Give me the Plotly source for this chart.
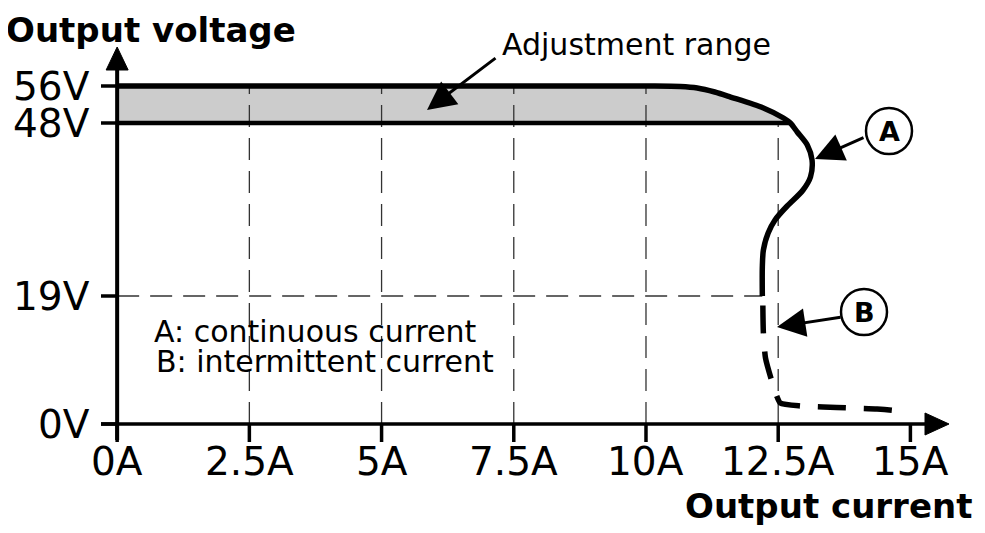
import numpy as np
import plotly.graph_objects as go

# ---------------- data ----------------
x_ticks = [0, 2.5, 5, 7.5, 10, 12.5, 15]
x_tick_labels = ["0A", "2.5A", "5A", "7.5A", "10A", "12.5A", "15A"]
y_ticks = [0, 19, 48, 56]
y_tick_labels = ["0V", "19V", "48V", "56V"]

# continuous-current part of the curve (A) : current [A], voltage [V]
solid_i = [0.0, 10.0, 10.65, 10.97, 11.30, 11.60, 12.22, 12.60, 12.73, 12.86, 13.05, 13.14,
           13.11, 12.97, 12.73, 12.67, 12.44, 12.31, 12.22, 12.20, 12.20]
solid_v = [56.0, 56.0, 55.9, 55.57, 54.7, 53.62, 51.24, 49.08, 48.0, 46.49, 44.31, 41.80,
           38.95, 36.77, 34.59, 34.09, 31.74, 29.56, 26.71, 23.86, 19.0]
# intermittent-current part (B)
dash_i = [12.21, 12.22, 12.26, 12.39, 12.48, 12.54, 12.92, 13.35, 13.86, 14.37, 14.75, 14.85]
dash_v = [17.6, 13.51, 9.80, 6.09, 4.01, 3.12, 2.67, 2.52, 2.37, 2.23, 1.93, 1.63]

v_low, v_high = 48, 56      # adjustment range
v_grid = 19

# ---------------- layout helpers ----------------
# the drawing's voltage axis is not to scale: piecewise mapping to display units
V_BREAKS = [0, 19, 48, 56]
D_BREAKS = [0, 128, 301, 338]


def vd(v):
    return np.interp(v, V_BREAKS, D_BREAKS)


OFF = 8                        # default page body margin
FW, FH = 985 - 2 * OFF, 533 - 2 * OFF
XMIN, XMAX = -0.4, 15.9
YMIN, YMAX = -24, 384
L, T = 96 - OFF, 40 - OFF
PW, PH = 862, 408
PXA = PW / (XMAX - XMIN)       # px per ampere
X0PX = L + OFF - XMIN * PXA    # page pixel x of 0 A
Y0PX = T + OFF + YMAX          # page pixel y of 0 V


def px2x(px):
    return (px - X0PX) / PXA


def px2d(py):
    return Y0PX - py


def paperx(px):
    return (px - OFF - L) / PW


def papery(py):
    return (T + PH - (py - OFF)) / PH


FONT = "DejaVu Sans"
BLACK = "#000000"

fig = go.Figure()

# gray adjustment-range fill
cross = solid_v.index(v_low)
fill_x = solid_i[:cross + 1] + [0.0]
fill_y = list(vd(np.array(solid_v[:cross + 1]))) + [vd(v_low)]
fig.add_trace(go.Scatter(x=fill_x, y=fill_y, mode="lines", fill="toself",
                         fillcolor="#cccccc", line=dict(width=0), hoverinfo="skip"))

# dashed grid lines
GRID = dict(color="#333333", width=1.3, dash="22px,11px")
for xt in x_ticks[1:-1]:
    top = v_high if xt < 12 else v_low
    fig.add_trace(go.Scatter(x=[xt, xt], y=[vd(0), vd(top)], mode="lines",
                             line=GRID, hoverinfo="skip"))
fig.add_trace(go.Scatter(x=[0, solid_i[-1]], y=[vd(v_grid), vd(v_grid)], mode="lines",
                         line=GRID, hoverinfo="skip"))

# 48 V line
fig.add_trace(go.Scatter(x=[0, solid_i[cross]], y=[vd(v_low), vd(v_low)], mode="lines",
                         line=dict(color=BLACK, width=4.5), hoverinfo="skip"))

# curves
fig.add_trace(go.Scatter(x=solid_i, y=vd(np.array(solid_v)), mode="lines",
                         line=dict(color=BLACK, width=5.5, shape="spline", smoothing=0.8),
                         hoverinfo="skip"))
fig.add_trace(go.Scatter(x=dash_i, y=vd(np.array(dash_v)), mode="lines",
                         line=dict(color=BLACK, width=5.5, dash="28px,18px",
                                   shape="spline", smoothing=0.6),
                         hoverinfo="skip"))

shapes = []
# axes
shapes.append(dict(type="line", x0=0, x1=0, y0=px2d(440), y1=px2d(66),
                   line=dict(color=BLACK, width=4)))
shapes.append(dict(type="line", x0=px2x(101), x1=px2x(928), y0=0, y1=0,
                   line=dict(color=BLACK, width=3.5)))
# arrow heads
hx = 11 / PXA
shapes.append(dict(type="path",
                   path=f"M {-hx} {px2d(70)} L 0 {px2d(47)} L {hx} {px2d(70)} Z",
                   fillcolor=BLACK, line=dict(color=BLACK, width=1)))
shapes.append(dict(type="path",
                   path=f"M {px2x(925)} 11 L {px2x(949)} 0 L {px2x(925)} -11 Z",
                   fillcolor=BLACK, line=dict(color=BLACK, width=1)))
# ticks
for yt in y_ticks:
    shapes.append(dict(type="line", x0=px2x(101), x1=0, y0=vd(yt), y1=vd(yt),
                       line=dict(color=BLACK, width=3.5)))
for xt in x_ticks:
    shapes.append(dict(type="line", x0=xt, x1=xt, y0=0, y1=-18,
                       line=dict(color=BLACK, width=3.5)))
# label circles
for cx, cy in [(889, 131), (864, 312)]:
    shapes.append(dict(type="circle", x0=px2x(cx - 23), x1=px2x(cx + 23),
                       y0=px2d(cy + 23), y1=px2d(cy - 23),
                       line=dict(color=BLACK, width=2.5), fillcolor="white"))

annotations = []
for xt, lab in zip(x_ticks, x_tick_labels):
    annotations.append(dict(x=xt, y=0, yshift=-37, text=lab, showarrow=False,
                            xanchor="center", yanchor="middle",
                            font=dict(family=FONT, size=39, color=BLACK)))
for yt, lab in zip(y_ticks, y_tick_labels):
    annotations.append(dict(x=0, xshift=-25, y=vd(yt), text=lab, showarrow=False,
                            xanchor="right", yanchor="middle",
                            font=dict(family=FONT, size=39, color=BLACK)))

annotations.append(dict(xref="paper", yref="paper", x=paperx(5), y=papery(OFF + 1),
                        text="<b>Output voltage</b>", showarrow=False,
                        xanchor="left", yanchor="top", borderpad=0,
                        font=dict(family=FONT, size=34, color=BLACK)))
annotations.append(dict(xref="paper", yref="paper", x=paperx(684), y=papery(506),
                        text="<b>Output current</b>", showarrow=False,
                        xanchor="left", yanchor="middle", borderpad=0,
                        font=dict(family=FONT, size=34, color=BLACK)))
annotations.append(dict(x=px2x(500), y=px2d(44), text="Adjustment range", showarrow=False,
                        xanchor="left", yanchor="middle",
                        font=dict(family=FONT, size=30, color=BLACK)))
annotations.append(dict(x=px2x(152), y=px2d(331), text="A: continuous current",
                        showarrow=False, xanchor="left", yanchor="middle",
                        font=dict(family=FONT, size=30, color=BLACK)))
annotations.append(dict(x=px2x(154), y=px2d(361), text="B: intermittent current",
                        showarrow=False, xanchor="left", yanchor="middle",
                        font=dict(family=FONT, size=30, color=BLACK)))
for (cx, cy), lab in zip([(889, 131), (864, 312)], ["A", "B"]):
    annotations.append(dict(x=px2x(cx), y=px2d(cy), text=f"<b>{lab}</b>", showarrow=False,
                            xanchor="center", yanchor="middle",
                            font=dict(family=FONT, size=27, color=BLACK)))

# pointer arrows
ARROW = dict(showarrow=True, arrowhead=2, arrowsize=1.9, arrowwidth=3,
             arrowcolor=BLACK, text="", standoff=0)
for tip, tail in [((427, 110), (497, 57)), ((815, 159), (865, 137)), ((777, 327), (842, 317))]:
    annotations.append(dict(x=px2x(tip[0]), y=px2d(tip[1]),
                            ax=tail[0] - tip[0], ay=tail[1] - tip[1], **ARROW))

fig.update_layout(
    width=FW, height=FH,
    margin=dict(l=L, r=FW - L - PW, t=T, b=FH - T - PH),
    paper_bgcolor="white", plot_bgcolor="white",
    showlegend=False,
    xaxis=dict(range=[XMIN, XMAX], visible=False, fixedrange=True),
    yaxis=dict(range=[YMIN, YMAX], visible=False, fixedrange=True),
    shapes=shapes, annotations=annotations,
)

fig.write_html("out.html")
